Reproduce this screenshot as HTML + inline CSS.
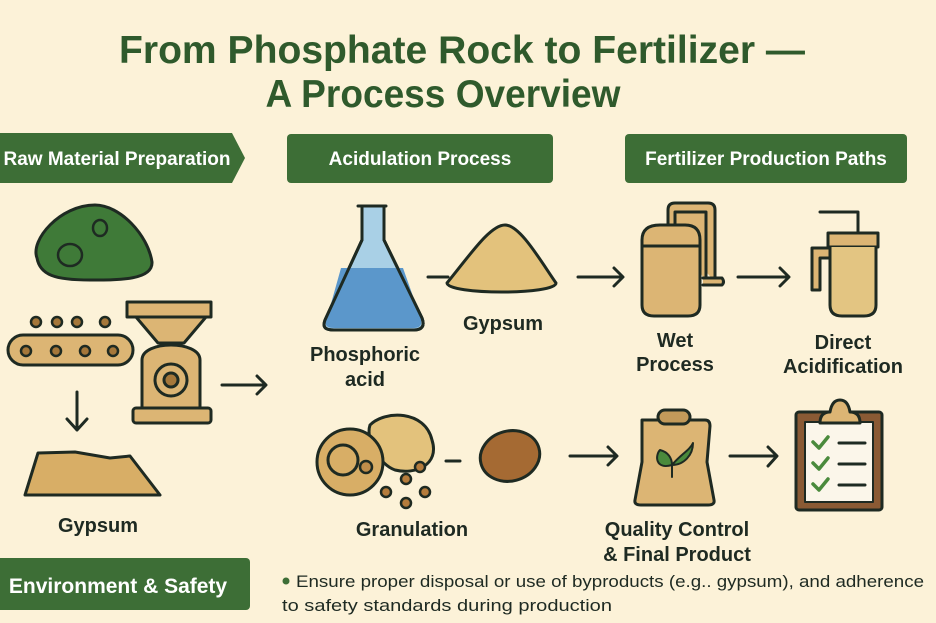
<!DOCTYPE html>
<html><head><meta charset="utf-8"><style>
html,body{margin:0;padding:0;background:#fcf2d8;}
svg{display:block;font-family:"Liberation Sans",sans-serif;}
</style></head><body>
<svg width="936" height="623" viewBox="0 0 936 623" xmlns="http://www.w3.org/2000/svg">
<rect width="936" height="623" fill="#fcf2d8"/>
<g fill="#2f5a2c" font-weight="bold" font-size="39" text-anchor="middle">
<text x="462" y="63" textLength="686" lengthAdjust="spacingAndGlyphs">From Phosphate Rock to Fertilizer —</text>
<text x="443" y="107" textLength="355" lengthAdjust="spacingAndGlyphs">A Process Overview</text>
</g>
<!-- banners -->
<path d="M-5 133 H232 L245 158 L232 183 H-5 Z" fill="#3d6e36"/>
<rect x="287" y="134" width="266" height="49" rx="4" fill="#3d6e36"/>
<rect x="625" y="134" width="282" height="49" rx="4" fill="#3d6e36"/>
<rect x="-4" y="558" width="254" height="52" rx="4" fill="#3d6e36"/>
<g fill="#fff" font-size="19" font-weight="bold" text-anchor="middle">
<text x="117" y="165">Raw Material Preparation</text>
<text x="420" y="165">Acidulation Process</text>
<text x="766" y="165">Fertilizer Production Paths</text>
<text x="118" y="593" font-size="21">Environment &amp; Safety</text>
</g>
<g stroke="#1e2a22" stroke-width="3" fill="none" stroke-linecap="round" stroke-linejoin="round">
<!-- rock -->
<path d="M37 258 C30 240 60 205 95 205 C120 205 148 235 152 262 C153 280 120 280 90 280 C55 280 40 275 37 258Z" fill="#3f7a38"/>
<ellipse cx="70" cy="255" rx="12" ry="11" stroke-width="2.5"/>
<ellipse cx="100" cy="228" rx="7" ry="8" stroke-width="2.5"/>
<!-- conveyor -->
<rect x="8" y="335" width="125" height="30" rx="15" fill="#dcb574"/>
<g fill="#a5773a" stroke-width="2.5">
<circle cx="26" cy="351" r="5"/><circle cx="56" cy="351" r="5"/><circle cx="85" cy="351" r="5"/><circle cx="113" cy="351" r="5"/>
<circle cx="36" cy="322" r="5"/><circle cx="57" cy="322" r="5"/><circle cx="77" cy="322" r="5"/><circle cx="105" cy="322" r="5"/>
</g>
<!-- grinder -->
<rect x="127" y="302" width="84" height="15" fill="#dcb574"/>
<path d="M136 317 L206 317 L184 343 L158 343 Z" fill="#dcb574"/>
<path d="M142 410 V360 C142 340 200 340 200 360 V410 Z" fill="#dcb574"/>
<circle cx="171" cy="380" r="16" fill="#dcb574"/>
<circle cx="171" cy="380" r="7" fill="#a5773a"/>
<rect x="133" y="408" width="78" height="15" rx="3" fill="#dcb574"/>
<!-- arrows -->
<path d="M77 392 V430 M67 419 L77 430 L87 419"/>
<path d="M222 385 H265 M257 376 L266 385 L257 394"/>
<!-- gypsum pile left -->
<path d="M25 495 L38 453 L75 452 L110 458 L130 456 L160 495 Z" fill="#d8ae66"/>
<!-- flask -->
<path d="M358 206 H386 M362 206 V240 L325 320 C322 328 326 330 334 330 H414 C422 330 425 326 422 318 L384 240 V206" fill="#a9d0e6"/>
<path d="M341 268 H403 L420 316 C423 326 420 328 412 328 H335 C326 328 324 325 327 318 Z" fill="#5b97cb" stroke="none"/>
<path d="M362 206 V240 L325 320 C322 328 326 330 334 330 H414 C422 330 425 326 422 318 L384 240 V206"/>
<path d="M428 277 H448"/>
<!-- gypsum pile -->
<path d="M447 283 C470 255 490 225 505 225 C520 225 540 260 556 283 C556 295 448 295 447 283Z" fill="#e3c27c"/>
<path d="M578 277 H622 M614 268 L623 277 L614 286"/>
<!-- wet process tank -->
<path d="M668 228 V210 Q668 203 675 203 H708 Q715 203 715 210 V282 M675 230 V212 H706 V282" fill="#dcb574"/>
<path d="M703 278 H722 Q725 282 722 285 H703" fill="#dcb574"/>
<path d="M642 240 Q642 225 660 225 H685 Q700 225 700 240 V305 Q700 316 688 316 H654 Q642 316 642 305 Z" fill="#dcb574"/>
<path d="M642 246 H700"/>
<path d="M738 277 H788 M780 268 L789 277 L780 286"/>
<!-- direct acidification -->
<path d="M820 212 H858 V236" fill="none"/>
<path d="M832 248 H812 V290 H820 V258 H832" fill="#dcb574"/>
<rect x="828" y="233" width="50" height="14" fill="#dcb574"/>
<path d="M830 247 V305 Q830 316 842 316 H864 Q876 316 876 305 V247" fill="#e3c582"/>
<!-- granulation -->
<path d="M370 425 C385 410 425 410 432 440 C440 465 415 475 395 470 C380 465 365 440 370 425Z" fill="#e3c27c"/>
<circle cx="350" cy="462" r="33" fill="#d8ae66"/>
<circle cx="343" cy="460" r="15" fill="#d8ae66"/>
<circle cx="366" cy="467" r="6" fill="#c08d4a" stroke-width="2.5"/>
<g fill="#b57c3c" stroke-width="2.5"><circle cx="420" cy="467" r="5"/><circle cx="406" cy="479" r="5"/><circle cx="386" cy="492" r="5"/><circle cx="425" cy="492" r="5"/><circle cx="406" cy="503" r="5"/></g>
<path d="M446 461 H460"/>
<ellipse cx="510" cy="456" rx="30" ry="25" transform="rotate(-15 510 456)" fill="#a56a33"/>
<path d="M570 456 H616 M608 447 L617 456 L608 465"/>
<!-- bag -->
<path d="M642 420 H705 Q710 420 710 426 L707 462 L714 500 Q715 505 708 505 H641 Q634 505 635 500 L642 462 Z" fill="#dcb574"/>
<rect x="658" y="410" width="32" height="14" rx="7" fill="#c29a5a"/>
<path d="M672 477 V465 M672 465 C655 470 655 455 660 450 C668 452 672 458 672 465 C680 455 690 450 693 443 C693 455 684 465 672 465" fill="#4a8a3c" stroke-width="2"/>
<path d="M730 456 H776 M768 447 L777 456 L768 466"/>
<!-- clipboard -->
<rect x="796" y="412" width="86" height="98" rx="3" fill="#8a5a34"/>
<rect x="805" y="422" width="68" height="80" fill="#fbf6ea" stroke-width="2"/>
<path d="M820 423 Q820 412 830 412 Q832 400 840 400 Q848 400 850 412 Q860 412 860 423 Z" fill="#dcb574"/>
<g stroke="#4a8a3c" stroke-width="3.5"><path d="M813 442 L819 448 L828 437"/><path d="M813 463 L819 469 L828 458"/><path d="M813 484 L819 490 L828 479"/></g>
<path d="M839 443 H865 M839 464 H865 M839 485 H865"/>
</g>
<!-- labels -->
<g fill="#1e2a22" font-size="20" font-weight="bold" text-anchor="middle">
<text x="98" y="532">Gypsum</text>
<text x="503" y="330">Gypsum</text>
<text x="365" y="361">Phosphoric</text>
<text x="365" y="386">acid</text>
<text x="675" y="347">Wet</text>
<text x="675" y="371">Process</text>
<text x="843" y="349">Direct</text>
<text x="843" y="373">Acidification</text>
<text x="412" y="536">Granulation</text>
<text x="677" y="536">Quality Control</text>
<text x="677" y="561">&amp; Final Product</text>
</g>
<circle cx="286" cy="581" r="3.5" fill="#3d6e36"/>
<g fill="#1e2a22" font-size="17">
<text x="296" y="587" textLength="628" lengthAdjust="spacingAndGlyphs">Ensure proper disposal or use of byproducts (e.g.. gypsum), and adherence</text>
<text x="282" y="611" textLength="330" lengthAdjust="spacingAndGlyphs">to safety standards during production</text>
</g>
</svg>
</body></html>
